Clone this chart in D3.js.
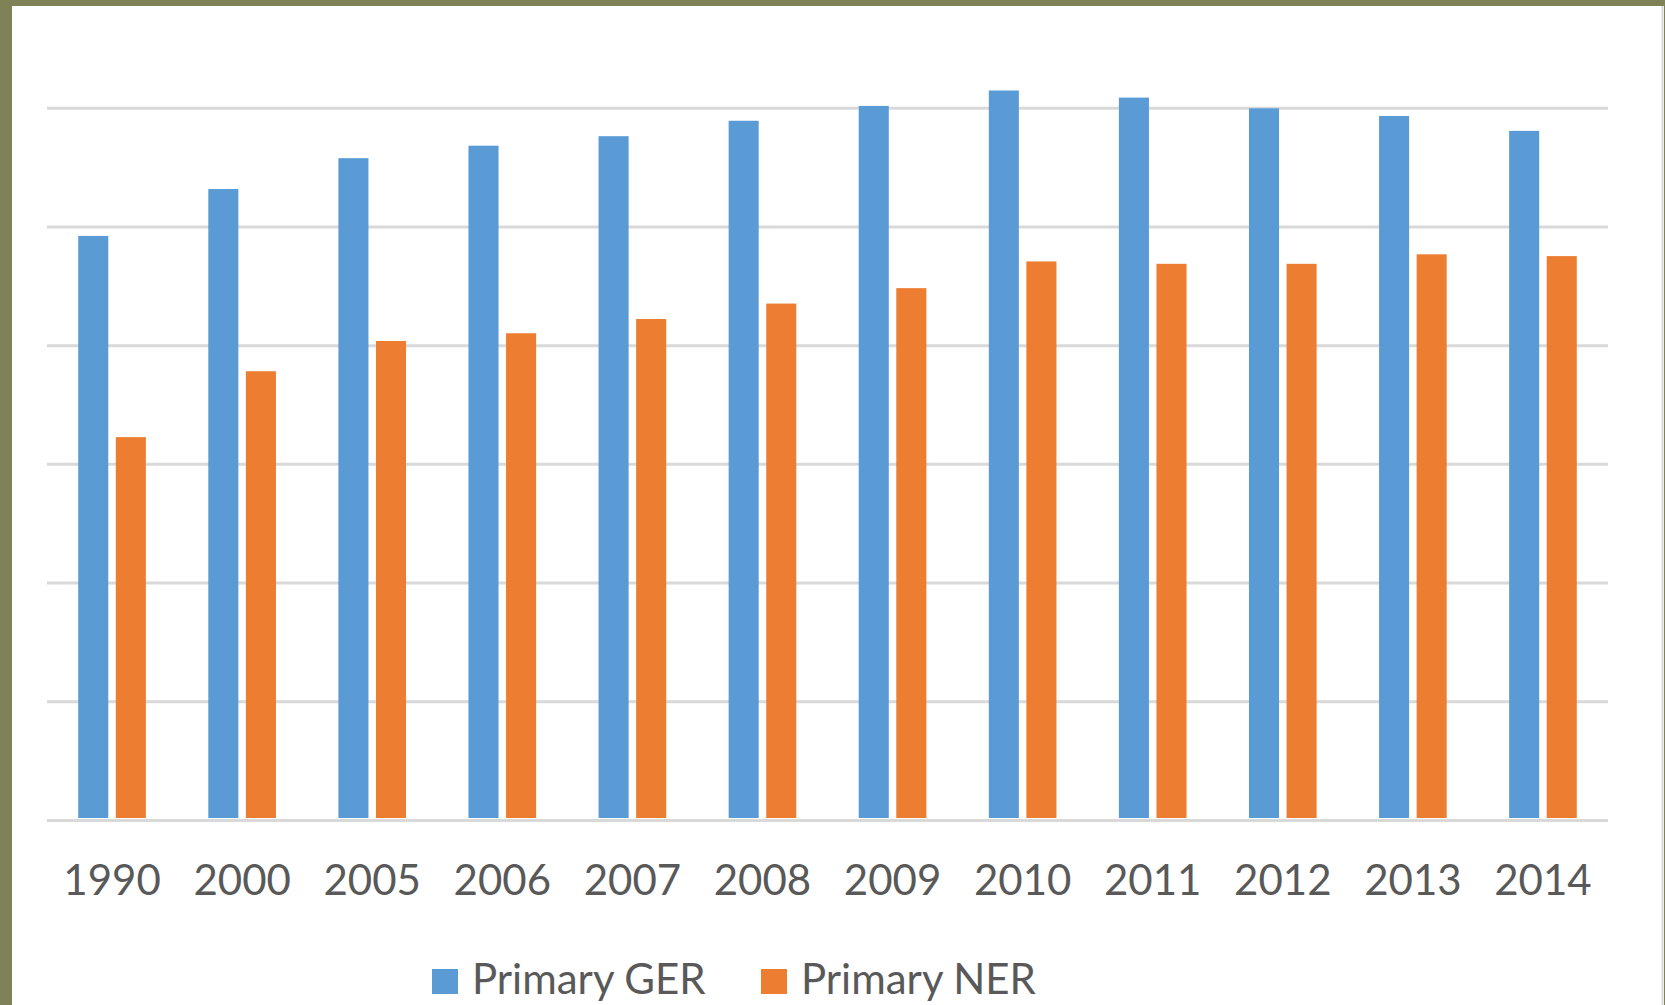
<!DOCTYPE html>
<html>
<head>
<meta charset="utf-8">
<script src="https://cdn.jsdelivr.net/npm/d3@7"></script>
<style>
    html, body { margin: 0; padding: 0; background: #7f8157; overflow: hidden; }
    svg { display: block; }
</style>
</head>
<body>
<div id="chart"></div>
<script>
// data
var years = ["1990", "2000", "2005", "2006", "2007", "2008", "2009", "2010", "2011", "2012", "2013", "2014"];
var seriesNames = ["Primary GER", "Primary NER"];
var gerValues = [98.4, 106.3, 111.5, 113.6, 115.2, 117.8, 120.3, 122.9, 121.7, 119.9, 118.6, 116.1];
var nerValues = [64.5, 75.6, 80.7, 82.0, 84.4, 87.0, 89.6, 94.1, 93.7, 93.7, 95.3, 95.0];
var gridTicks = [0, 20, 40, 60, 80, 100, 120];
var colors = ["#5b9bd5", "#ed7d31"];

/**
 * Appends the svg with the white chart panel
 */
function appendSVG(id) {
    var svg = d3.select("#" + id)
        .append("svg")
        .attr("width", 1665)
        .attr("height", 1005);

    svg.append("rect")
        .attr("x", 12)
        .attr("y", 6)
        .attr("width", 1652)
        .attr("height", 1005)
        .attr("fill", "#ffffff");

    svg.append("line")
        .attr("x1", 1662.5).attr("x2", 1662.5)
        .attr("y1", 6).attr("y2", 1005)
        .attr("stroke", "#dadada")
        .attr("stroke-width", 2);

    return svg;
}

function drawChart() {
    var svg = appendSVG("chart");
    var left = 47, right = 1608, top = 107.7, bottom = 820;

    var rows = years.map(function (yr, i) {
        return { year: yr, values: [gerValues[i], nerValues[i]] };
    });

    var x0 = d3.scaleBand()
        .domain(years)
        .range([left, right])
        .paddingInner(0.48)
        .paddingOuter(0.24);

    var x1 = d3.scaleBand()
        .domain([0, 1])
        .range([0, x0.bandwidth()])
        .paddingInner(0.2);

    var y = d3.scaleLinear()
        .domain([0, 120])
        .range([bottom, top]);

    // gridlines
    var grid = svg.append("g")
        .attr("transform", "translate(" + left + ",0)")
        .call(d3.axisLeft(y).tickValues(gridTicks).tickSize(-(right - left)).tickFormat(""));
    grid.select(".domain").remove();
    grid.selectAll(".tick line")
        .attr("stroke", "#d9d9d9")
        .attr("stroke-width", 3);

    // bars
    var groups = svg.append("g")
        .selectAll("g")
        .data(rows)
        .join("g")
        .attr("transform", function (d) { return "translate(" + x0(d.year) + ",0)"; });

    groups.selectAll("rect")
        .data(function (d) { return d.values.map(function (v, k) { return { k: k, v: v }; }); })
        .join("rect")
        .attr("x", function (d) { return x1(d.k); })
        .attr("y", function (d) { return y(d.v); })
        .attr("width", x1.bandwidth())
        .attr("height", function (d) { return y(0) - 2 - y(d.v); })
        .attr("fill", function (d) { return colors[d.k]; });

    // year labels
    var xAxis = svg.append("g")
        .attr("transform", "translate(0," + bottom + ")")
        .call(d3.axisBottom(x0).tickSize(0));
    xAxis.select(".domain").remove();
    xAxis.selectAll("text")
        .attr("y", 75)
        .attr("dy", 0)
        .style("font-family", "Lato, 'Open Sans', sans-serif")
        .style("font-size", "42px")
        .attr("fill", "#595959");

    // legend
    var legendX = [432, 761];
    var legend = svg.append("g")
        .selectAll("g")
        .data(seriesNames)
        .join("g")
        .attr("transform", function (d, i) { return "translate(" + legendX[i] + ",0)"; });

    legend.append("rect")
        .attr("x", 0)
        .attr("y", 969)
        .attr("width", 26)
        .attr("height", 25)
        .attr("fill", function (d, i) { return colors[i]; });

    legend.append("text")
        .attr("x", 40)
        .attr("y", 994)
        .style("font-family", "Lato, 'Open Sans', sans-serif")
        .style("font-size", "42px")
        .attr("fill", "#595959")
        .text(function (d) { return d; });
}

drawChart();
</script>
</body>
</html>
